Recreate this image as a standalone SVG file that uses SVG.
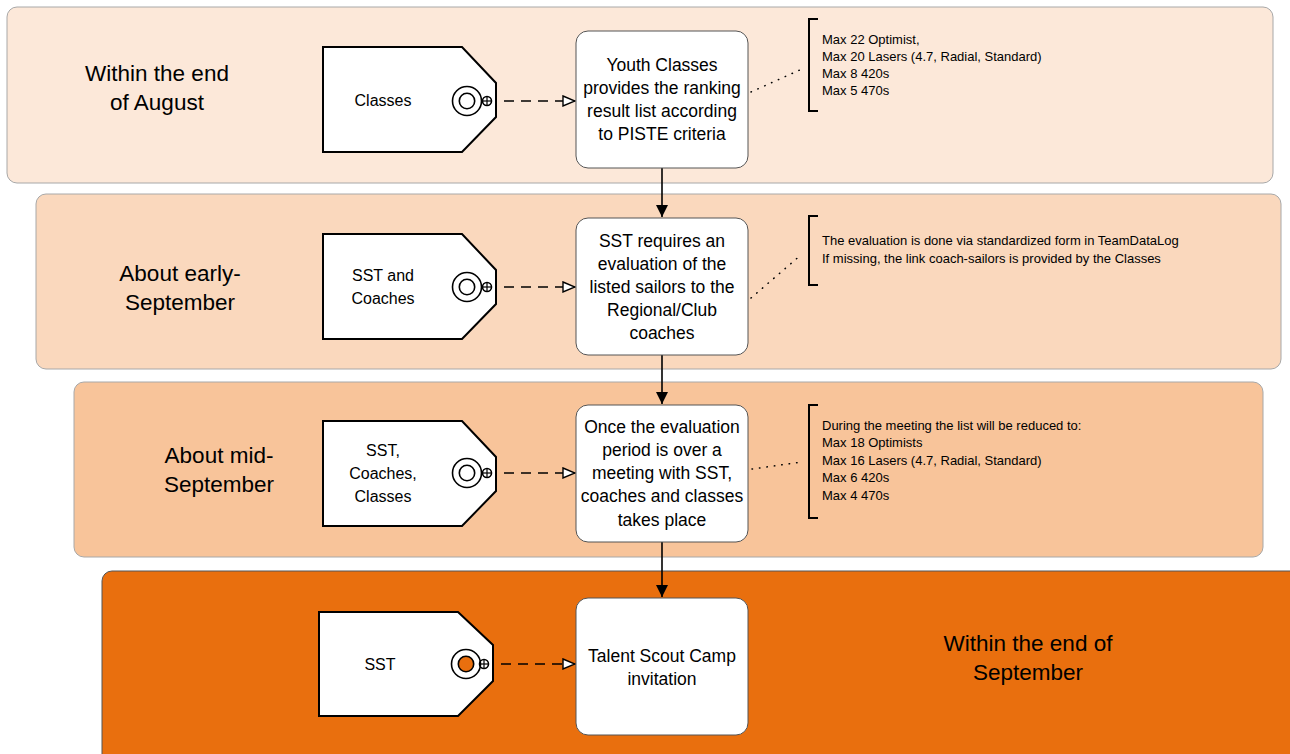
<svg xmlns="http://www.w3.org/2000/svg" width="1290" height="754" viewBox="0 0 1290 754">
<defs>
<style>
.band{stroke:#a8a8a8;stroke-width:1}
.tag{fill:#fff;stroke:#000;stroke-width:2}
.box{fill:#fff;stroke:#555;stroke-width:1}
.t{font-family:"Liberation Sans",Arial,sans-serif;fill:#000;text-anchor:middle}
.bt{font-size:17.5px}
.tt{font-size:16px}
.lt{font-size:22.5px}
.at{font-family:"Liberation Sans",Arial,sans-serif;font-size:13px;fill:#000}
.dash{fill:none;stroke:#000;stroke-width:1.6;stroke-dasharray:10,7}
.dot{fill:none;stroke:#000;stroke-width:1.5;stroke-dasharray:0.5,7;stroke-linecap:round}
.brk{fill:none;stroke:#000;stroke-width:2}
.c{fill:none;stroke:#000;stroke-width:1.6}
</style>
<marker id="open" markerWidth="14" markerHeight="12" refX="13" refY="6" orient="auto" markerUnits="userSpaceOnUse">
<path d="M1,1 L13,6 L1,11 Z" fill="#fff" stroke="#000" stroke-width="1.4"/>
</marker>
<marker id="solid" markerWidth="14" markerHeight="14" refX="12" refY="7" orient="auto" markerUnits="userSpaceOnUse">
<path d="M0,1 L12,7 L0,13 Z" fill="#000"/>
</marker>
</defs>

<g id="band1"><rect class="band" x="7" y="7" width="1266" height="176" rx="10" fill="#FCE8D9"/>
<text class="t lt" x="157" y="81">Within the end</text><text class="t lt" x="157" y="110">of August</text></g>
<g id="band2"><rect class="band" x="36" y="194" width="1245" height="175" rx="10" fill="#FAD8BD"/>
<text class="t lt" x="180" y="281">About early-</text><text class="t lt" x="180" y="310">September</text></g>
<g id="band3"><rect class="band" x="74" y="382" width="1189" height="175" rx="10" fill="#F8C49A"/>
<text class="t lt" x="219" y="463">About mid-</text><text class="t lt" x="219" y="492">September</text></g>
<g id="band4"><rect x="102" y="571" width="1200" height="200" rx="10" fill="#E96F0E" stroke="#555" stroke-width="1"/>
<text class="t lt" x="1028" y="651">Within the end of</text><text class="t lt" x="1028" y="680">September</text></g>

<g id="connectors">
<line class="dash" x1="487" y1="101" x2="575" y2="101" marker-end="url(#open)"/>
<line class="dash" x1="487" y1="287" x2="575" y2="287" marker-end="url(#open)"/>
<line class="dash" x1="487" y1="473" x2="575" y2="473" marker-end="url(#open)"/>
<line class="dash" x1="484" y1="664" x2="575" y2="664" marker-end="url(#open)"/>
<line x1="662" y1="168" x2="662" y2="217" stroke="#000" stroke-width="1.6" marker-end="url(#solid)"/>
<line x1="662" y1="355" x2="662" y2="404" stroke="#000" stroke-width="1.6" marker-end="url(#solid)"/>
<line x1="662" y1="542" x2="662" y2="597" stroke="#000" stroke-width="1.6" marker-end="url(#solid)"/>
<line class="dot" x1="751" y1="92" x2="802" y2="69"/>
<line class="dot" x1="751" y1="298" x2="802" y2="254"/>
<line class="dot" x1="752" y1="469" x2="802" y2="462"/>
</g>

<g id="tag1"><path class="tag" d="M323,47 H462 L496,83 V117 L462,152 H323 Z"/>
<circle class="c" cx="467" cy="101" r="14.5"/><circle class="c" cx="467" cy="101" r="7.7"/>
<circle class="c" cx="487" cy="101" r="4.5"/><line x1="487" y1="96" x2="487" y2="106" stroke="#000" stroke-width="1.2"/><line x1="482" y1="101" x2="492" y2="101" stroke="#000" stroke-width="1.2"/>
<text class="t tt" x="383" y="106">Classes</text></g>

<g id="tag2"><path class="tag" d="M323,234 H462 L496,270 V304 L462,339 H323 Z"/>
<circle class="c" cx="467" cy="287" r="14.5"/><circle class="c" cx="467" cy="287" r="7.7"/>
<circle class="c" cx="487" cy="287" r="4.5"/><line x1="487" y1="282" x2="487" y2="292" stroke="#000" stroke-width="1.2"/><line x1="482" y1="287" x2="492" y2="287" stroke="#000" stroke-width="1.2"/>
<text class="t tt" x="383" y="281">SST and</text><text class="t tt" x="383" y="304">Coaches</text></g>

<g id="tag3"><path class="tag" d="M323,421 H462 L496,457 V491 L462,526 H323 Z"/>
<circle class="c" cx="467" cy="473" r="14.5"/><circle class="c" cx="467" cy="473" r="7.7"/>
<circle class="c" cx="487" cy="473" r="4.5"/><line x1="487" y1="468" x2="487" y2="478" stroke="#000" stroke-width="1.2"/><line x1="482" y1="473" x2="492" y2="473" stroke="#000" stroke-width="1.2"/>
<text class="t tt" x="383" y="456">SST,</text><text class="t tt" x="383" y="479">Coaches,</text><text class="t tt" x="383" y="502">Classes</text></g>

<g id="tag4"><path class="tag" d="M319,612 H458 L493,645 V681 L458,716 H319 Z"/>
<circle class="c" cx="466" cy="664" r="14.5"/><circle cx="466" cy="664" r="7.7" fill="#E96F0E" stroke="#000" stroke-width="1.6"/>
<circle class="c" cx="484" cy="664" r="4.5"/><line x1="484" y1="659" x2="484" y2="669" stroke="#000" stroke-width="1.2"/><line x1="479" y1="664" x2="489" y2="664" stroke="#000" stroke-width="1.2"/>
<text class="t tt" x="380" y="670">SST</text></g>

<g id="box1"><rect class="box" x="576" y="31" width="172" height="137" rx="12"/>
<text class="t bt" x="662" y="71">Youth Classes</text><text class="t bt" x="662" y="94">provides the ranking</text><text class="t bt" x="662" y="117">result list according</text><text class="t bt" x="662" y="140">to PISTE criteria</text></g>
<g id="box2"><rect class="box" x="576" y="218" width="172" height="137" rx="12"/>
<text class="t bt" x="662" y="247">SST requires an</text><text class="t bt" x="662" y="270">evaluation of the</text><text class="t bt" x="662" y="293">listed sailors to the</text><text class="t bt" x="662" y="316">Regional/Club</text><text class="t bt" x="662" y="339">coaches</text></g>
<g id="box3"><rect class="box" x="576" y="405" width="172" height="137" rx="12"/>
<text class="t bt" x="662" y="433">Once the evaluation</text><text class="t bt" x="662" y="456">period is over a</text><text class="t bt" x="662" y="479">meeting with SST,</text><text class="t bt" x="662" y="502">coaches and classes</text><text class="t bt" x="662" y="526">takes place</text></g>
<g id="box4"><rect class="box" x="576" y="598" width="172" height="137" rx="12"/>
<text class="t bt" x="662" y="662">Talent Scout Camp</text><text class="t bt" x="662" y="685">invitation</text></g>

<g id="note1"><path class="brk" d="M818,19 H809 V111 H818"/>
<text class="at" x="822" y="44">Max 22 Optimist,</text><text class="at" x="822" y="61">Max 20 Lasers (4.7, Radial, Standard)</text><text class="at" x="822" y="78">Max 8 420s</text><text class="at" x="822" y="95">Max 5 470s</text></g>
<g id="note2"><path class="brk" d="M818,216 H809 V285 H818"/>
<text class="at" x="822" y="245">The evaluation is done via standardized form in TeamDataLog</text><text class="at" x="822" y="263">If missing, the link coach-sailors is provided by the Classes</text></g>
<g id="note3"><path class="brk" d="M818,405 H809 V518 H818"/>
<text class="at" x="822" y="430">During the meeting the list will be reduced to:</text><text class="at" x="822" y="447">Max 18 Optimists</text><text class="at" x="822" y="465">Max 16 Lasers (4.7, Radial, Standard)</text><text class="at" x="822" y="482">Max 6 420s</text><text class="at" x="822" y="500">Max 4 470s</text></g>
</svg>
